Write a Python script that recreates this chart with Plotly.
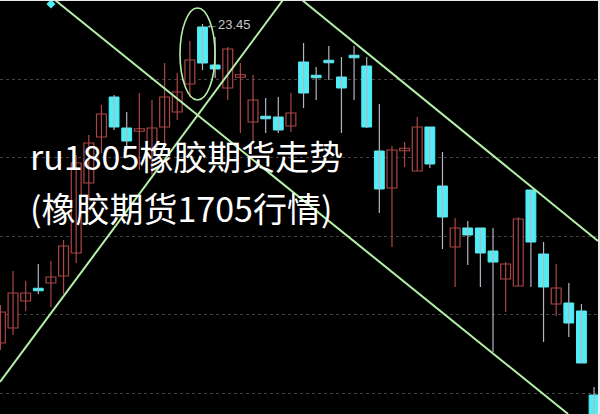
import plotly.graph_objects as go

# ---- data (prices) ----
idx = list(range(48))
opens = [20.26, 20.41, 20.68, 20.80, 20.86, 20.93, 21.16, 21.86, 22.32, 22.72,
         22.41, 22.38, 22.19, 22.42, 22.57, 22.85, 23.42, 23.04, 22.81, 22.92,
         22.47, 22.52, 22.52, 22.43, 23.07, 22.93, 23.08, 22.92, 23.13, 23.03,
         22.18, 21.81, 22.19, 21.98, 22.42, 21.83, 21.22, 21.41, 21.41, 21.18,
         20.90, 20.83, 21.79, 21.15, 20.65, 20.66, 20.58, 19.74]
closes = [20.57, 20.76, 20.76, 20.79, 20.92, 21.23, 22.06, 22.26, 22.55, 22.42,
          22.28, 22.40, 22.41, 22.72, 22.77, 23.09, 23.06, 23.00, 23.20, 22.94,
          22.69, 22.51, 22.39, 22.56, 22.76, 22.92, 23.07, 22.81, 23.12, 22.42,
          21.80, 22.19, 22.20, 22.42, 22.05, 21.52, 21.41, 21.34, 21.16, 21.07,
          21.05, 21.50, 21.27, 20.82, 20.81, 20.46, 20.06, 19.49]
highs = [20.64, 20.98, 20.88, 21.05, 21.08, 21.29, 22.14, 22.34, 22.64, 22.74,
         22.57, 22.76, 22.69, 23.06, 22.96, 23.28, 23.45, 23.32, 23.22, 23.06,
         22.94, 22.71, 22.72, 22.76, 23.26, 23.02, 23.23, 23.12, 23.23, 23.12,
         22.65, 22.23, 22.27, 22.52, 22.42, 22.17, 21.51, 21.48, 21.41, 21.41,
         21.07, 21.52, 21.79, 21.27, 21.05, 20.86, 20.65, 19.82]
lows = [20.19, 20.34, 20.58, 20.75, 20.62, 20.75, 21.06, 21.69, 22.16, 22.39,
        22.19, 21.99, 21.94, 22.26, 22.49, 22.72, 22.99, 22.91, 22.69, 22.36,
        22.26, 22.36, 22.36, 22.37, 22.61, 22.69, 22.89, 22.36, 22.69, 22.41,
        21.56, 21.22, 22.02, 21.98, 22.01, 21.20, 20.82, 21.04, 20.82, 20.17,
        20.57, 20.83, 20.82, 20.27, 20.53, 20.32, 20.06, 19.49]

grid_prices = [22.90, 22.12, 21.33, 20.55, 19.76]

# trend lines (index, price) endpoints
line_lower = ([4.32, 44.94], [23.69, 19.55])
line_rising = ([-0.03, 22.37], [19.87, 23.69])
line_upper = ([23.88, 47.31], [23.69, 21.28])

peak_label = "←23.45"
title1 = "ru1805橡胶期货走势"
title2 = "(橡胶期货1705行情)"

# ---- styles ----
RED = "#ac4646"
CYAN = "#50eef4"
WICK_DOWN = "#b4b4c4"
GREEN = "#b4f0a8"
XR = [-0.032, 47.47]
YR = [19.55, 23.69]

fig = go.Figure()

up = [i for i in idx if closes[i] > opens[i]]
dn = [i for i in idx if closes[i] <= opens[i]]

def wick_xy(ids):
    xs, ys = [], []
    for i in ids:
        xs += [i, i, None]
        ys += [lows[i], highs[i], None]
    return xs, ys

wx, wy = wick_xy(up)
fig.add_trace(go.Scatter(x=wx, y=wy, mode="lines", line=dict(color=RED, width=1.2),
                         hoverinfo="skip", showlegend=False))
wx, wy = wick_xy(dn)
fig.add_trace(go.Scatter(x=wx, y=wy, mode="lines", line=dict(color=WICK_DOWN, width=1.2),
                         hoverinfo="skip", showlegend=False))

MIN_H = 0.025

def bodies(ids):
    base, h = [], []
    for i in ids:
        lo = min(opens[i], closes[i])
        hh = abs(closes[i] - opens[i])
        if hh < MIN_H:
            lo = (opens[i] + closes[i]) / 2 - MIN_H / 2
            hh = MIN_H
        base.append(lo)
        h.append(hh)
    return base, h

b, h = bodies(up)
fig.add_trace(go.Bar(x=up, y=h, base=b, width=0.78,
                     marker=dict(color="#000000", line=dict(color=RED, width=1.2)),
                     showlegend=False, hoverinfo="skip"))
b, h = bodies(dn)
fig.add_trace(go.Bar(x=dn, y=h, base=b, width=0.78,
                     marker=dict(color=CYAN, line=dict(color=CYAN, width=1)),
                     showlegend=False, hoverinfo="skip"))

for xs, ys in (line_lower, line_rising, line_upper):
    fig.add_trace(go.Scatter(x=xs, y=ys, mode="lines", line=dict(color=GREEN, width=2),
                             hoverinfo="skip", showlegend=False))

fig.add_trace(go.Scatter(x=[4.0], y=[23.65], mode="markers",
                         marker=dict(symbol="diamond", size=7, color=CYAN),
                         hoverinfo="skip", showlegend=False))

fig.add_shape(type="circle", xref="x", yref="y", x0=14.22, x1=16.99, y0=22.69, y1=23.61,
              line=dict(color=GREEN, width=1.6))

fig.add_annotation(x=16, y=highs[16], xref="x", yref="y", text=peak_label, showarrow=False,
                   xanchor="left", yanchor="middle", xshift=0,
                   font=dict(family="Liberation Sans, Arial", size=13, color="#c8c8c8"))

fig.add_annotation(x=28 / 600, y=1 - 155 / 414, xref="paper", yref="paper", text=title1,
                   showarrow=False, xanchor="left", yanchor="middle",
                   font=dict(family="Noto Sans CJK SC", size=34, color="#ffffff"))
fig.add_annotation(x=28 / 600, y=1 - 207 / 414, xref="paper", yref="paper", text=title2,
                   showarrow=False, xanchor="left", yanchor="middle",
                   font=dict(family="Noto Sans CJK SC", size=34, color="#ffffff"))

fig.add_shape(type="line", xref="paper", yref="paper", x0=0, x1=1, y0=1, y1=1,
              line=dict(color="#e8e8e8", width=2))
fig.add_shape(type="line", xref="paper", yref="paper", x0=1, x1=1, y0=0, y1=1,
              line=dict(color="#e8e8e8", width=4))

fig.update_layout(
    width=600, height=414, margin=dict(l=0, r=0, t=0, b=0),
    paper_bgcolor="#000000", plot_bgcolor="#000000",
    barmode="overlay", bargap=0, showlegend=False, hovermode=False,
    xaxis=dict(range=XR, showgrid=False, zeroline=False, showticklabels=False, visible=False),
    yaxis=dict(range=YR, tickvals=grid_prices, showgrid=True, gridcolor="#4a4040",
               griddash="dot", gridwidth=1, zeroline=False, showticklabels=False, ticks=""),
)

fig.write_html("out.html", config={"displayModeBar": False, "staticPlot": True},
               post_script="document.body.style.margin='0';document.body.style.overflow='hidden';document.body.style.background='#000';")
